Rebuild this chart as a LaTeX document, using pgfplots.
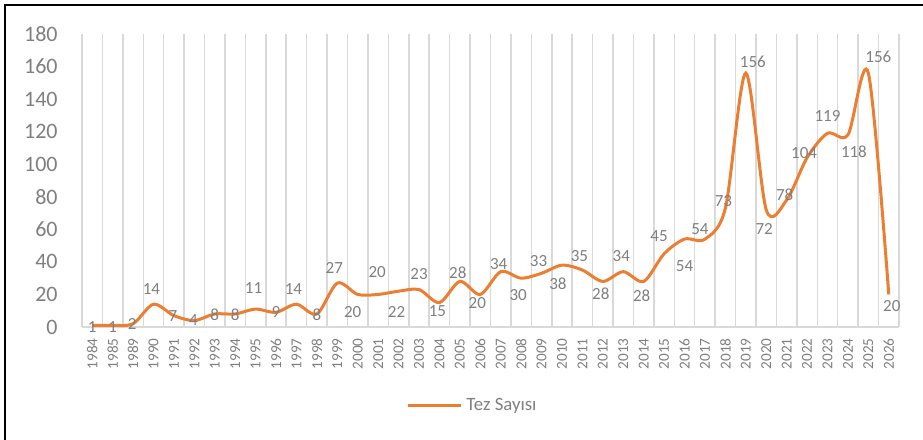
\documentclass[border=0pt]{standalone}
\usepackage{pgfplots}
\pgfplotsset{compat=1.18}
\usepackage{pgfplotstable}
\usepackage{fontspec}
\setmainfont{Carlito}
\definecolor{lineorange}{HTML}{ED7D31}
\definecolor{txtgray}{HTML}{7F7F7F}
\definecolor{gridgray}{HTML}{D9D9D9}

% idx  value  label offset dx, dy (in px, dy upwards)
\pgfplotstableread{
idx val dx dy
0 1 0 -1.6
1 1 0 -1.6
2 2 -1 0
3 14 -2 15
4 7 -1 0
5 4 -1 0
6 8 0 -1
7 8 0 -1
8 11 -2 21
9 9 0 0
10 14 -3 15
11 8 0 -1
12 27 -3 15
13 20 -5 -18
14 20 -1 22
15 22 -2 -21
16 23 0 16
17 15 -2 -9
18 28 -2 9
19 20 -3 -9
20 34 -2 8
21 30 -3 -17
22 33 -3 12
23 38 -4 -19
24 35 -3 14
25 28 -2 -12
26 34 -2 16
27 28 -2 -14
28 45 -5 18
29 54 0 -27
30 54 -5 10
31 73 -2 7
32 156 7 11
33 72 -2 -19
34 78 -2 5
35 104 -3 5
36 119 0 17
37 118 6 -17
38 156 10 16
39 20 3 -12
}\datatable

\begin{document}
\begin{tikzpicture}
\useasboundingbox (-41pt,-56.5pt) rectangle (420.5pt,163.5pt);
\draw[line width=1pt, black] (-38.5pt,-60pt) -- (-38.5pt,161pt) -- (425pt,161pt);
\begin{axis}[
  at={(0pt,0pt)}, anchor=south west,
  scale only axis, width=408.5pt, height=146.5pt,
  xmin=-0.5, xmax=39.5, ymin=0, ymax=180,
  clip=false,
  axis line style={draw=none},
  major tick length=0pt, minor tick length=0pt,
  ytick={0,20,...,180},
  xtick={0,...,39},
  xticklabels={1984,1985,1989,1990,1991,1992,1993,1994,1995,1996,1997,1998,1999,2000,2001,2002,2003,2004,2005,2006,2007,2008,2009,2010,2011,2012,2013,2014,2015,2016,2017,2018,2019,2020,2021,2022,2023,2024,2025,2026},
  minor xtick={-0.5,0.5,...,39.5},
  xminorgrids=true,
  minor x grid style={gridgray, line width=0.75pt},
  extra y ticks={0}, extra y tick labels={},
  extra y tick style={ymajorgrids=true, major grid style={gridgray, line width=0.75pt}},
  /pgf/number format/assume math mode=true,
  yticklabel style={font=\fontsize{11}{13}\selectfont, text=txtgray, inner sep=0pt, xshift=-12pt},
  xticklabel style={font=\fontsize{7.6}{9}\selectfont, text=txtgray, inner sep=0pt, yshift=-5.5pt, rotate=90, anchor=east},
  legend style={at={(axis description cs:0.3966,-0.2696)}, anchor=west, draw=none, fill=none, inner sep=0pt,
    font=\fontsize{9.4}{11}\selectfont, text=txtgray, nodes={inner xsep=2pt}},
  legend image code/.code={\draw[#1] (0pt,0pt) -- (26.5pt,0pt);},
]
\addplot[lineorange, line width=1.5pt, smooth, tension=0.5, no markers,
  visualization depends on={\thisrow{dx}\as\dx},
  visualization depends on={\thisrow{dy}\as\dy},
  nodes near coords,
  nodes near coords style={anchor=center, font=\fontsize{8.5}{10}\selectfont, text=txtgray,
    inner sep=0pt, xshift={\dx*0.5pt}, yshift={\dy*0.5pt}},
] table[x=idx, y=val] {\datatable};
\addlegendentry{Tez Sayısı}
\end{axis}
\end{tikzpicture}
\end{document}
